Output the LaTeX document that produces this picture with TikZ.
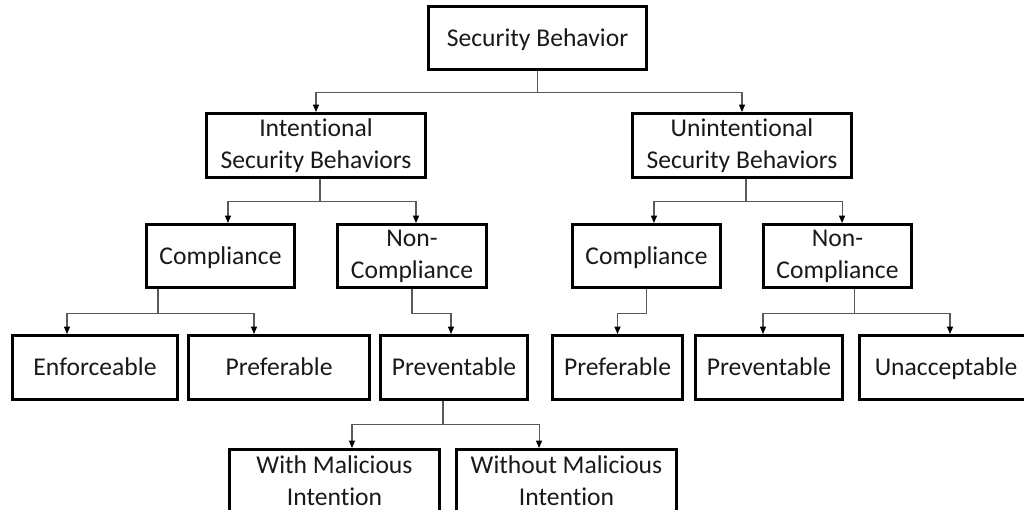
\documentclass[tikz,border=0pt]{standalone}
\usepackage{fontspec}
\setmainfont[Ligatures=NoCommon]{Carlito}
\usetikzlibrary{arrows.meta}

\begin{document}
\begin{tikzpicture}[x=0.75pt,y=-0.75pt,
    box/.style={draw, line width=2.25pt, inner sep=0pt, align=center, text=black!90,
      font=\fontsize{19.2}{24}\selectfont},
    oneline/.style={box, text height=12.4pt, text depth=0pt},
    conn/.style={draw=black!65, line width=0.8pt,
      -{Triangle[length=5.5pt,width=4.5pt,color=black]}}]
  \useasboundingbox (0,0) rectangle (1024,510);

  % top
  \node[oneline, minimum width=163.5pt, minimum height=47.25pt] (sb) at (537.5,38.5) {Security Behavior};

  \node[box, minimum width=164.25pt, minimum height=48pt] (int) at (316,145.5) {Intentional\\Security Behaviors};
  \node[box, minimum width=164.25pt, minimum height=48pt] (unint) at (742,145.5) {Unintentional\\Security Behaviors};

  \node[oneline, minimum width=111pt, minimum height=47.25pt] (comp1) at (220.5,256) {Compliance};
  \node[box, minimum width=111.75pt, minimum height=47.25pt] (noncomp1) at (412,256) {Non-\\Compliance};
  \node[oneline, minimum width=111pt, minimum height=47.25pt] (comp2) at (646.5,256) {Compliance};
  \node[box, minimum width=111pt, minimum height=47.25pt] (noncomp2) at (837.5,256) {Non-\\Compliance};

  \node[oneline, minimum width=123.75pt, minimum height=48pt] (enf) at (95,367.5) {Enforceable};
  \node[oneline, minimum width=135.75pt, minimum height=48pt] (pref1) at (279,367.5) {Preferable};
  \node[oneline, minimum width=110.25pt, minimum height=48pt] (prev1) at (454,367.5) {Preventable};
  \node[oneline, minimum width=97.5pt, minimum height=48pt] (pref2) at (617.5,367.5) {Preferable};
  \node[oneline, minimum width=110.25pt, minimum height=48pt] (prev2) at (769,367.5) {Preventable};
  \node[oneline, minimum width=129.75pt, minimum height=48pt] (unacc) at (946,367.5) {Unacceptable};

  \node[box, minimum width=157.5pt, minimum height=47.25pt] (withm) at (334.5,481) {With Malicious\\Intention};
  \node[box, minimum width=165pt, minimum height=47.25pt] (withoutm) at (566.5,481) {Without Malicious\\Intention};

  % connectors
  \draw[conn] (sb.south) -- ++(0,21) -| (int.north);
  \draw[conn] (sb.south) -- ++(0,21) -| (unint.north);

  \draw[conn] ([xshift=3pt]int.south) -- ++(0,22.5) -| ([xshift=5.6pt]comp1.north);
  \draw[conn] ([xshift=3pt]int.south) -- ++(0,22.5) -| ([xshift=3pt]noncomp1.north);
  \draw[conn] ([xshift=3pt]unint.south) -- ++(0,22.5) -| ([xshift=5.6pt]comp2.north);
  \draw[conn] ([xshift=3pt]unint.south) -- ++(0,22.5) -| ([xshift=3.4pt]noncomp2.north);

  \draw[conn] ([xshift=-46.9pt]comp1.south) -- ++(0,24.5) -| ([xshift=-21pt]enf.north);
  \draw[conn] ([xshift=-46.9pt]comp1.south) -- ++(0,24.5) -| ([xshift=-18.75pt]pref1.north);
  \draw[conn] (noncomp1.south) -- ++(0,24.5) -| ([xshift=-2.25pt]prev1.north);
  \draw[conn] (comp2.south) -- ++(0,24.5) -| (pref2.north);
  \draw[conn] ([xshift=12.4pt]noncomp2.south) -- ++(0,24.5) -| ([xshift=-4.5pt]prev2.north);
  \draw[conn] ([xshift=12.4pt]noncomp2.south) -- ++(0,24.5) -| ([xshift=3pt]unacc.north);

  \draw[conn] ([xshift=-8.25pt]prev1.south) -- ++(0,23.5) -| ([xshift=13.1pt]withm.north);
  \draw[conn] ([xshift=-8.25pt]prev1.south) -- ++(0,23.5) -| ([xshift=-20.6pt]withoutm.north);
\end{tikzpicture}
\end{document}
